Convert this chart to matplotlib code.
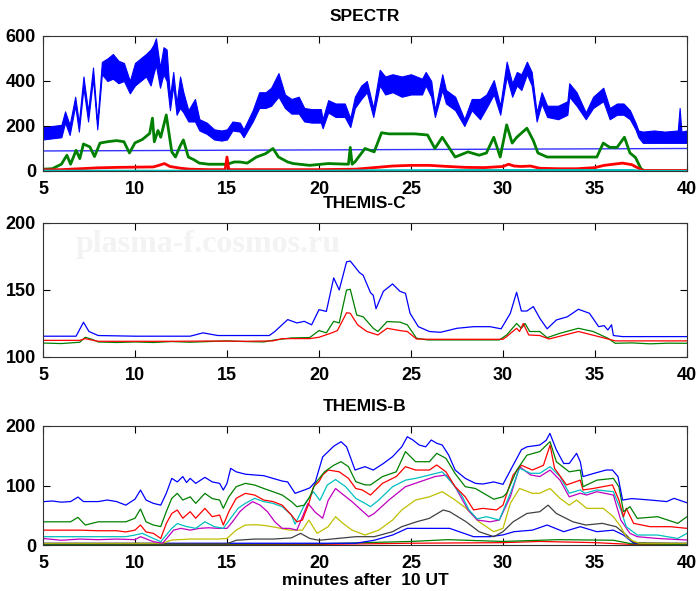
import matplotlib
matplotlib.use("Agg")
import matplotlib.pyplot as plt

# ---------------- SPECTR (top panel) ----------------
spectr_t = [5.0, 5.5, 6.0, 6.2, 6.45, 6.75, 6.95, 7.2, 7.45, 7.72, 7.95, 8.2, 8.5, 8.8, 9.1, 9.4,
            9.72, 10.0, 10.3, 10.6, 10.85, 11.0, 11.14, 11.36, 11.55, 11.72, 11.9, 12.08, 12.26,
            12.45, 12.63, 12.9, 13.26, 13.5, 13.9, 14.3, 14.7, 15.0, 15.3, 15.7, 15.9, 16.4, 16.75,
            17.1, 17.4, 17.8, 18.15, 18.5, 18.9, 19.2, 19.6, 20.1, 20.2, 20.5, 20.9, 21.4, 21.7,
            21.95, 22.3, 22.6, 22.95, 23.3, 23.6, 24.0, 24.5, 25.0, 25.6, 25.8, 26.1, 26.3, 26.7,
            26.9, 27.4, 27.9, 28.3, 28.75, 29.1, 29.5, 29.85, 30.2, 30.5, 30.75, 31.0, 31.3, 31.56,
            31.83, 32.1, 32.4, 33.0, 33.5, 33.6, 34.0, 34.5, 34.9, 35.45, 35.8, 36.2, 36.55, 36.9,
            37.2, 37.36, 37.6, 38.2, 38.8, 39.5, 39.6, 39.7, 40.0]
spectr_blue_lo = [140, 145, 150, 215, 160, 290, 175, 370, 220, 410, 185, 430, 400, 410, 390, 400,
                  345, 380, 400, 420, 380, 430, 470, 370, 430, 400, 270, 380, 250,
                  280, 260, 220, 220, 180, 165, 140, 135, 140, 180, 175, 150, 220, 280,
                  280, 290, 330, 280, 255, 255, 220, 215, 215, 190, 260, 240, 240, 195,
                  280, 320, 350, 240, 380, 340, 350, 330, 340, 340, 380, 330, 240, 360,
                  300, 270, 200, 270, 230, 280, 340, 250, 420, 330, 380, 360, 430, 380,
                  220, 300, 240, 230, 250, 330, 290, 230, 280, 310, 230, 250, 250, 230,
                  185, 150, 125, 125, 125, 125, 125, 125, 125]
spectr_blue_hi = [195, 200, 205, 265, 205, 330, 215, 420, 265, 460, 215, 485, 500, 520, 490, 480,
                  400, 480, 500, 520, 540, 560, 590, 460, 550, 540, 330, 440, 300,
                  420, 350, 270, 320, 230, 215, 185, 180, 185, 220, 215, 185, 270, 350,
                  350, 370, 435, 340, 320, 330, 280, 275, 275, 230, 315, 300, 300, 235,
                  330, 380, 400, 280, 450, 420, 430, 420, 430, 410, 440, 400, 270, 430,
                  360, 330, 230, 320, 320, 340, 404, 290, 486, 390, 440, 430, 486, 440,
                  260, 350, 290, 290, 310, 390, 350, 260, 330, 370, 280, 300, 300, 270,
                  215, 180, 175, 180, 175, 180, 280, 175, 180]

spectr_green_t = [5.0, 5.5, 6.0, 6.3, 6.5, 6.8, 7.0, 7.2, 7.55, 7.8, 8.1, 8.5, 9.0, 9.4, 9.7, 10.0,
                  10.4, 10.8, 10.95, 11.05, 11.25, 11.4, 11.7, 12.0, 12.2, 12.45, 12.63, 12.9,
                  13.2, 13.5, 14.0, 14.5, 15.0, 15.4, 15.7, 16.1, 16.6, 17.1, 17.5, 17.8, 18.3,
                  18.6, 19.5, 20.5, 21.6, 21.7, 21.8, 21.95, 22.5, 23.0, 23.4, 23.8, 24.5, 25.2,
                  25.9, 26.3, 26.7, 27.4, 28.1, 28.7, 29.1, 29.5, 29.85, 30.2, 30.5, 30.75, 31.3,
                  31.65, 31.9, 32.4, 33.0, 34.0, 35.1, 35.45, 35.8, 36.2, 36.6, 36.9, 37.2, 37.5,
                  37.7, 40.0]
spectr_green = [8, 10, 30, 70, 30, 92, 55, 120, 107, 64, 124, 130, 135, 130, 80, 125,
                140, 167, 235, 130, 180, 150, 249, 85, 62, 110, 138, 62,
                50, 35, 30, 30, 30, 40, 40, 35, 62, 77, 100, 62, 40,
                33, 25, 33, 30, 105, 30, 40, 100, 85, 170, 165, 165, 165,
                160, 100, 150, 62, 85, 70, 80, 150, 62, 205, 124, 150, 190,
                135, 80, 62, 62, 62, 62, 124, 105, 105, 150, 80, 60, 10,
                0, 0]

spectr_red_t = [5, 6, 7, 8, 9, 10, 11, 11.3, 11.6, 11.9, 12.5, 13, 14, 14.9, 15.0, 15.1, 16, 18,
                20, 22, 23, 24, 25, 26, 27, 28, 29, 30, 30.3, 30.6, 31, 31.5, 32, 33, 34, 35,
                35.5, 36, 36.5, 37, 37.3, 37.6, 40]
spectr_red = [5, 6, 10, 14, 16, 17, 18, 25, 33, 20, 12, 8, 6, 6, 62, 6, 6, 6,
              6, 8, 15, 22, 25, 25, 20, 16, 15, 20, 30, 22, 20, 22, 12, 10, 10, 15,
              25, 30, 35, 28, 15, 2, 2]

spectr_cyan_t = [5, 20, 23, 30, 37, 37.6, 40]
spectr_cyan = [1, 1, 3, 4, 4, 0, 0]

spectr_level_t = [5, 40]
spectr_level = [89, 100]

# ---------------- THEMIS-C (middle panel) ----------------
thc_blue_t = [5, 6.8, 7.2, 7.5, 8, 10, 13, 13.7, 14.5, 17.3, 17.6, 18.3, 18.8, 19.2, 19.6, 20,
              20.4, 20.8, 21.1, 21.5, 21.7, 22.2, 22.4, 22.8, 22.95, 23.1, 23.5, 24.0, 24.4, 24.7,
              24.95, 25.4, 26.0, 26.6, 27.5, 28.4, 29.3, 29.9, 30.4, 30.74, 31.0, 31.3, 31.65,
              32.0, 32.4, 32.9, 33.5, 34.1, 34.7, 35.2, 35.5, 35.7, 35.9, 36.0, 36.5, 40]
thc_blue = [115.5, 115.5, 125.9, 119, 116, 115.5, 115.5, 118, 116, 116, 119, 127.9, 125.4, 126.6,
            124, 135.3, 134, 159, 150, 171, 171.6, 163, 161, 148, 146, 136, 149, 154.5, 149,
            147.5, 132.6, 122.6, 119, 118.4, 121.4, 122.6, 122.6, 121, 132.6, 148.3, 134.3,
            134.3, 137.6, 128.9, 121, 127.6, 130, 135.6, 132.6, 122.6, 123.4, 120.1, 124, 116,
            115.2, 115.2]

thc_green_t = [5, 6, 7, 7.3, 7.7, 8, 9, 10, 11, 12, 13, 14, 15, 16, 17, 17.5, 18.5, 19.5, 20,
               20.4, 20.8, 21.1, 21.5, 21.7, 22.05, 22.4, 22.95, 23.2, 23.7, 24.4, 24.8, 25.3,
               25.9, 27, 28, 29, 29.8, 30.2, 30.74, 31.0, 31.2, 31.45, 32.0, 32.4, 33.1, 34.1,
               34.9, 35.7, 36.1, 37, 38, 39, 40]
thc_green = [110.4, 110, 111, 114.7, 113, 111.2, 110.8, 111.2, 110.8, 111.5, 111, 111.5, 112,
             111.5, 111.2, 112.5, 114.2, 114.5, 119.7, 118, 126.6, 125.4, 150, 150.5, 131.3,
             130, 121.4, 119, 126.4, 126, 124, 114, 112.7, 112.7, 112.7, 112.7, 112.7, 116.4,
             125, 121.4, 125, 119, 119, 114.4, 117.7, 121.4, 119, 114, 110.2, 110.5, 109.8,
             110.3, 110.2]

thc_red_t = [5, 7, 7.3, 7.7, 8, 10, 12, 14, 16, 17.5, 18, 19.5, 20, 20.7, 21.0, 21.5, 21.7, 22.1,
             22.6, 23.2, 23.7, 24.4, 24.8, 25.3, 26, 28, 30, 30.2, 30.74, 30.9, 31.1, 31.4, 32.0,
             32.5, 34.1, 35.2, 36.1, 38, 40]
thc_red = [112.4, 112.4, 113.7, 112.5, 111.7, 111.7, 111.7, 111.9, 111.7, 112, 113.7, 113.7,
           114.7, 118, 119.7, 133, 132.6, 124, 119, 116.4, 121.4, 119.7, 119, 113.4, 113.2,
           113.2, 113.2, 115.2, 121.4, 119, 125, 116.4, 116, 113.4, 119, 115.2, 112, 112, 112]

# ---------------- THEMIS-B (bottom panel) ----------------
thb_blue_t = [5, 5.5, 6, 6.5, 6.9, 7.2, 8, 8.5, 9, 9.5, 10, 10.3, 10.6, 11, 11.4, 11.7, 12.0, 12.3,
              12.6, 12.8, 13.0, 13.3, 13.8, 14.2, 14.6, 14.8, 15.0, 15.2, 15.5, 16, 17, 17.5, 18,
              18.3, 18.7, 19.2, 19.5, 19.8, 20.2, 20.5, 20.8, 21.2, 21.5, 21.96, 22.5, 22.95, 23.5,
              24.0, 24.5, 24.8, 25.1, 25.45, 25.8, 26.1, 26.4, 26.7, 27.05, 27.4, 27.95, 28.5,
              28.9, 29.5, 30.0, 30.55, 31.0, 31.3, 32.0, 32.35, 32.55, 32.9, 33.3, 33.6, 34.0,
              34.2, 34.35, 34.9, 35.6, 35.95, 36.25, 36.5, 37.0, 38.0, 38.9, 39.3, 40]
thb_blue = [72.8, 74, 72, 73, 80.6, 73, 73, 75.6, 73, 67, 77, 92.4, 75.6, 70, 67, 86.8, 112, 106,
            115, 105, 112, 103.6, 113.7, 106, 103.6, 92.4, 103.6, 128.8, 123, 119, 116.5, 112,
            107.5, 106, 86.8, 92.4, 96, 106, 148, 157, 166, 173.6, 165, 126, 131.7, 126, 137,
            148.5, 165, 182, 176.5, 168, 165, 176.5, 171, 168, 151, 126, 112, 103.6,
            102.5, 106, 102, 134, 160, 165, 168, 176, 187.6, 160, 137, 137, 154,
            140, 115, 120, 126, 126, 115, 75.6, 78, 75.6, 73, 78.4, 71]

thb_green_t = [5, 6.5, 6.9, 7.3, 8, 9.5, 10, 10.3, 10.6, 11, 11.4, 11.7, 12, 12.3, 12.6, 13.0,
               13.3, 13.8, 14.2, 14.6, 14.8, 15.1, 15.5, 16, 16.5, 17, 17.5, 18, 18.5, 18.8, 19.2,
               19.5, 19.8, 20.3, 20.8, 21.2, 21.6, 22.0, 22.5, 22.8, 23.45, 24.2, 24.7, 25.25,
               26.0, 26.4, 26.9, 27.4, 27.95, 28.5, 29.5, 30.0, 30.2, 30.75, 31.3, 32.0, 32.56,
               32.9, 33.6, 34.2, 34.35, 35.1, 36.0, 36.3, 36.55, 36.9, 37.3, 38.4, 39.5, 40]
thb_green = [39, 39, 46.5, 33.6, 39, 39, 45, 60.5, 39, 33.6, 31, 56, 78.4, 86.8, 75.6, 81,
             70, 86.8, 78, 75.6, 61.6, 81, 98, 103.6, 100.8, 95, 89.6, 84, 73, 64.4, 67,
             81, 103.6, 123, 134, 140, 131.7, 106.5, 101, 101, 115, 123, 157, 140,
             140, 154, 145.7, 120, 98, 95, 77, 81, 87, 126, 151, 157, 173.7,
             140, 123, 126, 98, 109, 112, 98, 56, 64.4, 44.8, 47.6, 36.4, 47.6]

thb_red_t = [5, 6.5, 7, 8, 9, 9.5, 10, 10.3, 10.6, 11, 11.4, 11.7, 12.0, 12.3, 12.6, 13.0, 13.3,
             13.8, 14.2, 14.6, 14.8, 15.1, 15.5, 16, 16.5, 17, 17.5, 18, 18.5, 18.8, 19.1, 19.45,
             19.7, 20.0, 20.2, 20.5, 21.1, 21.6, 22.0, 22.35, 22.8, 23.45, 24.2, 24.7, 25.25,
             26.0, 26.4, 26.9, 27.4, 27.95, 28.4, 28.9, 29.65, 30.0, 30.55, 31.0, 31.6, 32.2,
             32.56, 32.8, 33.45, 34.2, 34.35, 34.9, 35.95, 36.3, 36.55, 36.7, 37.1, 38.0, 39.1, 40]
thb_red = [25, 25, 25, 24, 24, 22, 25, 33.6, 22, 19.6, 11, 36, 53, 58.8, 45, 56, 45,
           61.6, 47.6, 50.4, 33.6, 56, 78.4, 86.8, 84, 75.6, 73, 67, 50.4, 39, 42, 70,
           98, 106.5, 117.7, 126, 123, 112, 95, 92.5, 84, 103.6, 115, 131.7, 126,
           126, 134.5, 123, 98, 81, 59, 61.6, 59, 67, 117.6, 134, 126, 134,
           168, 129, 101, 109, 92.5, 95, 101, 75.6, 47.6, 61.6, 36.4, 30.8, 30.8, 28]

thb_cyan_t = [5, 9.5, 10, 10.4, 11, 11.4, 11.7, 12.0, 12.3, 12.8, 13.3, 13.8, 14.3, 14.8, 15.2,
              15.6, 16.0, 16.5, 17, 17.5, 18, 18.5, 18.7, 19.25, 19.7, 20.05, 20.45, 20.9, 21.45,
              22.0, 22.5, 22.8, 23.25, 24.0, 24.7, 25.25, 26.0, 26.7, 27.25, 27.8, 28.15, 28.6,
              29.1, 29.8, 30.4, 30.9, 31.5, 32.0, 32.56, 33.1, 33.6, 34.2, 34.45, 35.1, 36.0,
              36.4, 36.7, 37.3, 38.4, 39.5, 40]
thb_cyan = [14, 14, 16.8, 19.6, 11, 5.6, 16.8, 28, 36, 31, 28, 39, 31, 28, 45,
            61.6, 70, 78.4, 73, 70, 64.4, 50.4, 35, 70, 89.6, 75, 100.8, 110, 98,
            78.4, 70, 64.4, 75.6, 98, 109, 112, 117.6, 123, 103.6, 81, 59, 44,
            47.6, 42, 87, 129, 120.5, 120.5, 131.7, 115, 87, 92.5, 87, 92.5, 89.6,
            59, 30.8, 16.8, 16.8, 11, 19.6]

thb_magenta_t = [5, 6, 7, 8, 9, 10, 10.3, 11, 11.5, 11.8, 12.1, 12.5, 13, 13.5, 14, 14.5, 15,
                 15.3, 15.7, 16.0, 16.4, 16.8, 17.2, 17.6, 18, 18.4, 18.8, 19.4, 19.8, 20.2, 20.5,
                 20.9, 21.3, 21.8, 22.4, 22.7, 23.0, 23.8, 24.7, 25.5, 26.3, 26.9, 27.4, 28.1,
                 28.6, 29.3, 29.8, 30.4, 30.9, 31.5, 32.0, 32.56, 33.1, 33.6, 34.2, 34.55, 35.1,
                 36.0, 36.4, 36.9, 37.3, 38.4, 40]
thb_magenta = [11, 8, 10, 9, 10, 9, 14, 5.6, 3, 14, 25, 28, 25, 28, 29, 28, 28,
               39, 56, 64.4, 72.8, 67, 56, 39, 28, 28, 25, 70, 55, 45, 75,
               95, 85, 72.8, 56, 47.6, 53, 75.6, 98, 106.5, 115, 117.6, 98, 59,
               42, 39, 42, 81, 131.7, 117.7, 115, 126, 109, 81, 87, 84, 89.6,
               84, 42, 19.6, 14, 11, 8.4]

thb_yellow_t = [5, 11.5, 12, 13, 14.5, 15, 15.5, 16, 16.56, 17, 17.6, 18.4, 19.1, 19.45, 19.9,
                20.5, 20.9, 21.3, 21.8, 22.5, 23.25, 24.0, 24.5, 25.25, 26.0, 26.7, 27.4, 28.0,
                28.7, 29.5, 30.0, 30.4, 30.9, 31.6, 32.0, 32.56, 33.1, 33.6, 34.0, 34.55, 35.45,
                36.0, 36.4, 36.7, 37.0, 37.4, 40]
thb_yellow = [3, 3, 8.4, 10, 10, 11, 25, 33.6, 34, 33, 30, 25, 25, 42, 19.6,
              30.8, 47.6, 36.4, 25, 16.8, 25, 42, 59, 75.6, 81, 89.6, 75.6, 61.6,
              39, 22.4, 28, 70, 95, 86.8, 87, 95, 78.4, 67, 75.6, 61.6, 61.6,
              47.6, 30.8, 14, 8, 3, 3]

thb_black_t = [5, 15, 15.5, 16.5, 17.5, 18.5, 19.0, 19.5, 20, 21, 22, 23, 24, 24.5, 25.3, 26.0,
               26.75, 27.1, 28.0, 28.7, 29.5, 30.0, 30.55, 31.3, 32.0, 32.45, 32.9, 33.8, 34.5,
               35.4, 36.15, 36.7, 37.1, 40]
thb_black = [2, 2, 8, 10, 10, 12, 19.6, 11, 8, 11, 14, 14, 22.4, 30.8, 39, 44.8,
             58.8, 56, 39, 22.4, 14, 22.4, 39, 53, 56, 67, 53, 39, 33.6,
             36.4, 30.8, 16.8, 4, 2]

thb_blue2_t = [5, 22, 23, 24, 24.8, 25.5, 27.1, 28.4, 29.3, 30.0, 30.6, 31.6, 32.4, 33.3, 34.2,
               35.1, 36.0, 36.55, 37.1, 40]
thb_blue2 = [3, 3, 8, 16.8, 28, 28, 28, 14, 14, 17, 22.4, 25, 33.6, 22.4, 30.8,
             22.4, 25, 16.8, 3, 3]

thb_green2_t = [5, 20, 25, 27, 30, 33, 36, 37, 40]
thb_green2 = [1, 2, 6, 9, 6, 9, 8, 2, 1]
thb_red2_t = [5, 20, 25, 30, 32, 35, 37, 40]
thb_red2 = [1, 1, 3, 4, 6, 4, 1, 1]

xticks = [5, 10, 15, 20, 25, 30, 35, 40]

BLUE = (0, 0, 1)
GREEN = (0, 0.5, 0)
RED = (1, 0, 0)
CYAN = (0, 0.75, 0.75)
MAGENTA = (0.75, 0, 0.75)
YELLOW = (0.75, 0.75, 0)
BLACK = (0.25, 0.25, 0.25)

plt.rcParams["font.family"] = ["Liberation Sans", "DejaVu Sans"]
plt.rcParams["font.weight"] = "bold"


def style_axes(ax, ylim, yticks, title):
    ax.set_xlim(5, 40)
    ax.set_ylim(*ylim)
    ax.set_xticks(xticks)
    ax.set_yticks(yticks)
    ax.tick_params(direction="in", top=True, right=True, length=5, width=0.8,
                   labelsize=13, pad=5)
    ax.tick_params(axis="x", pad=7)
    for lab in ax.get_xticklabels() + ax.get_yticklabels():
        lab.set_fontweight("bold")
    for sp in ax.spines.values():
        sp.set_linewidth(0.8)
        sp.set_color("#333333")
    ax.set_title(title, fontsize=12.5, fontweight="bold", pad=11)


def main():
    fig = plt.figure(figsize=(7.0, 5.91), dpi=100)

    # top panel
    ax1 = fig.add_axes([0.0614, 0.7107, 0.92, 0.2284])
    ax1.fill_between(spectr_t, spectr_blue_lo, spectr_blue_hi, color=BLUE,
                     linewidth=0.8, edgecolor=BLUE)
    ax1.plot(spectr_level_t, spectr_level, color=(0.2, 0.2, 1), lw=1.0)
    ax1.plot(spectr_green_t, spectr_green, color=GREEN, lw=2.0)
    ax1.plot(spectr_red_t, spectr_red, color=RED, lw=2.0)
    ax1.plot(spectr_cyan_t, spectr_cyan, color=CYAN, lw=1.5)
    style_axes(ax1, (0, 600), [0, 200, 400, 600], "SPECTR")

    # middle panel
    ax2 = fig.add_axes([0.0614, 0.396, 0.92, 0.2267])
    ax2.text(0.05, 0.84, "plasma-f.cosmos.ru", transform=ax2.transAxes,
             family="Liberation Serif", fontsize=23, fontweight="bold",
             color="#f3f3f3", ha="left", va="center", zorder=0)
    ax2.plot(thc_blue_t, thc_blue, color=BLUE, lw=0.9)
    ax2.plot(thc_green_t, thc_green, color=GREEN, lw=0.9)
    ax2.plot(thc_red_t, thc_red, color=RED, lw=0.9)
    style_axes(ax2, (100, 200), [100, 150, 200], "THEMIS-C")

    # bottom panel
    ax3 = fig.add_axes([0.0614, 0.0778, 0.92, 0.2014])
    ax3.plot(thb_red2_t, thb_red2, color=RED, lw=0.9)
    ax3.plot(thb_green2_t, thb_green2, color=GREEN, lw=0.9)
    ax3.plot(thb_blue2_t, thb_blue2, color=BLUE, lw=0.9)
    ax3.plot(thb_black_t, thb_black, color=BLACK, lw=0.9)
    ax3.plot(thb_yellow_t, thb_yellow, color=YELLOW, lw=0.9)
    ax3.plot(thb_magenta_t, thb_magenta, color=MAGENTA, lw=0.9)
    ax3.plot(thb_cyan_t, thb_cyan, color=CYAN, lw=0.9)
    ax3.plot(thb_red_t, thb_red, color=RED, lw=0.9)
    ax3.plot(thb_green_t, thb_green, color=GREEN, lw=0.9)
    ax3.plot(thb_blue_t, thb_blue, color=BLUE, lw=0.9)
    style_axes(ax3, (0, 200), [0, 100, 200], "THEMIS-B")
    ax3.set_xlabel("minutes after  10 UT", fontsize=12.5, fontweight="bold", labelpad=1)

    fig.savefig("out.png", dpi=100)


if __name__ == '__main__':
    main()
